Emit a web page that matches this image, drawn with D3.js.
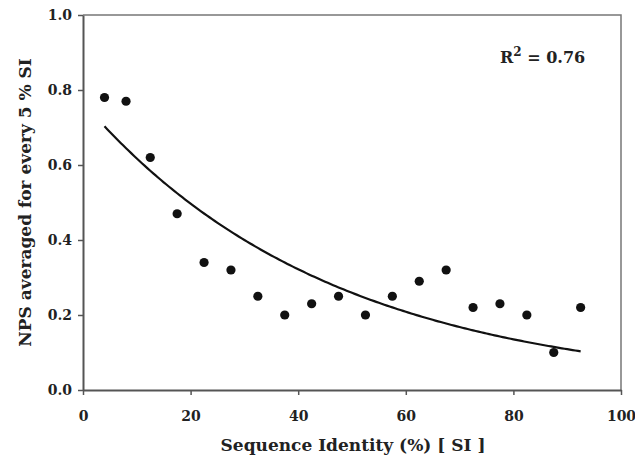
<!DOCTYPE html>
<html><head><meta charset="utf-8">
<script src="https://cdn.jsdelivr.net/npm/d3@7"></script>
<style>body{margin:0;background:#fff}svg{display:block}</style>
</head><body>
<svg id="c" width="635" height="460"></svg>
<script>
const seqIdentity = [4, 8, 12.5, 17.5, 22.5, 27.5, 32.5, 37.5, 42.5, 47.5, 52.5, 57.5, 62.5, 67.5, 72.5, 77.5, 82.5, 87.5, 92.5];
const npsValues  = [0.78, 0.77, 0.62, 0.47, 0.34, 0.32, 0.25, 0.20, 0.23, 0.25, 0.20, 0.25, 0.29, 0.32, 0.22, 0.23, 0.20, 0.10, 0.22];
const xTicks = [0, 20, 40, 60, 80, 100];
const yTicks = [0.0, 0.2, 0.4, 0.6, 0.8, 1.0];
// exponential trendline y = a * exp(b * x)
const trendA = 0.767, trendB = -0.0217;
const trendRange = [4, 92.5];
const r2Label = "0.76";

const svg = d3.select("#c");
const m = {l:83, r:14, t:15, b:70};
const W = 635, H = 460;
const x = d3.scaleLinear().domain([0,100]).range([m.l, W-m.r]);
const y = d3.scaleLinear().domain([0,1]).range([H-m.b, m.t]);
const font = "'DejaVu Serif', serif";

// frame top/right
svg.append("path").attr("d", `M${x(0)},${y(1)}H${x(100)}V${y(0)}`)
  .attr("fill","none").attr("stroke","#777").attr("stroke-width",1.5);

const xa = svg.append("g").attr("transform",`translate(0,${y(0)})`)
  .call(d3.axisBottom(x).tickValues(xTicks).tickSize(5).tickSizeOuter(0).tickPadding(16).tickFormat(d3.format("d")));
const ya = svg.append("g").attr("transform",`translate(${x(0)},0)`)
  .call(d3.axisLeft(y).tickValues(yTicks).tickSize(5).tickSizeOuter(0).tickPadding(6).tickFormat(d3.format(".1f")));
[xa, ya].forEach(g => {
  g.select(".domain").attr("stroke","#555").attr("stroke-width",2);
  g.selectAll(".tick line").attr("stroke","#555").attr("stroke-width",1.5);
  g.selectAll("text").attr("font-family",font).attr("font-weight","bold").attr("font-size",14).attr("fill","#222");
});

// trend line
const tx = d3.range(trendRange[0], trendRange[1]+0.01, 0.5);
svg.append("path").datum(tx)
  .attr("d", d3.line().x(d=>x(d)).y(d=>y(trendA*Math.exp(trendB*d))))
  .attr("fill","none").attr("stroke","#111").attr("stroke-width",2.2);

// points
svg.selectAll("circle.pt").data(seqIdentity).join("circle")
  .attr("class","pt").attr("cx",d=>x(d)).attr("cy",(d,i)=>y(npsValues[i])).attr("r",4.6).attr("fill","#111");

// R2 label
const rt = svg.append("text").attr("x",500).attr("y",63).attr("font-family",font)
  .attr("font-weight","bold").attr("font-size",16).attr("fill","#222");
rt.append("tspan").text("R");
rt.append("tspan").attr("dy",-7).attr("font-size",12).text("2");
rt.append("tspan").attr("dy",7).text(" = " + r2Label);

// axis titles
svg.append("text").attr("x",(x(0)+x(100))/2 + 1).attr("y",451).attr("text-anchor","middle")
  .attr("font-family",font).attr("font-weight","bold").attr("font-size",17).attr("fill","#222")
  .text("Sequence Identity (%) [ SI ]");
svg.append("text").attr("transform",`translate(31,${(y(0)+y(1))/2}) rotate(-90)`).attr("text-anchor","middle")
  .attr("font-family",font).attr("font-weight","bold").attr("font-size",17).attr("fill","#222")
  .text("NPS averaged for every 5 % SI");
</script>
</body></html>
